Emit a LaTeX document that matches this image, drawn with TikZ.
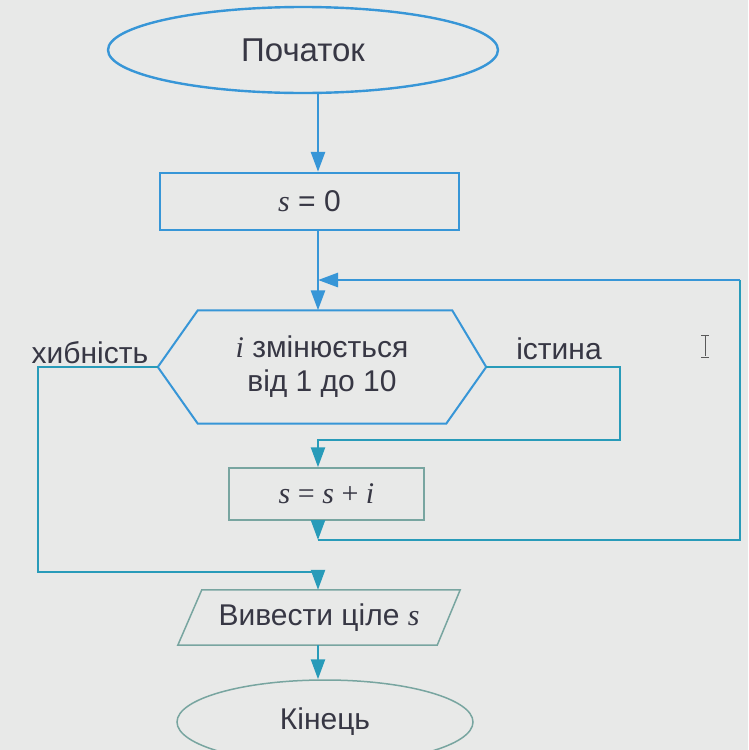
\documentclass[tikz,border=0pt]{standalone}
\usepackage{fontspec}
\setmainfont{Liberation Sans}
\newfontfamily\serifit{Liberation Serif}
\usetikzlibrary{arrows.meta,shapes.geometric,calc}
\definecolor{bgc}{RGB}{232,233,232}
\definecolor{lc}{RGB}{55,150,215}
\definecolor{lcb}{RGB}{40,155,185}
\definecolor{lcc}{RGB}{120,165,160}
\definecolor{tc}{RGB}{55,55,68}
\begin{document}
\begin{tikzpicture}[x=1pt,y=-1pt,
  tipA/.tip={Triangle[length=20pt,width=14pt]},
  flow/.style={draw=lc,line width=2.8pt,-tipA},
  flowb/.style={draw=lcb,line width=2.4pt,-tipA},
  lineb/.style={draw=lcb,line width=2.4pt},
  boxA/.style={draw=lc,line width=2.4pt,inner sep=0pt},
  boxB/.style={draw=lcc,line width=1.5pt,inner sep=0pt},
  txt/.style={text=tc,font=\fontsize{30}{34}\selectfont},
  lbl/.style={text=tc,font=\fontsize{30}{34}\selectfont,inner sep=0pt,anchor=base}]
\fill[bgc] (0,0) rectangle (748,750);
\useasboundingbox (0,0) rectangle (748,750);
\clip (0,0) rectangle (748,750);
\coordinate (col) at (318,0);
% nodes
\node[ellipse,boxA,minimum width=390pt,minimum height=86pt,txt,font=\fontsize{33}{36}\selectfont] (start) at (303,50) {Початок};
\node[rectangle,boxA,minimum width=299pt,minimum height=57pt,txt] (s0) at (309.5,201.5) {{\serifit\itshape s} = 0};
\node[minimum width=328pt,minimum height=113pt,align=center,txt,inner sep=0pt] (cyc) at (322,367) {{\serifit\itshape i} змінюється\\від 1 до 10};
\draw[draw=lc,line width=2pt] (cyc.west) -- ([xshift=40pt]cyc.north west) -- ([xshift=-34pt]cyc.north east) -- (cyc.east) -- ([xshift=-40pt]cyc.south east) -- ([xshift=40pt]cyc.south west) -- cycle;
\node[rectangle,boxB,minimum width=195pt,minimum height=52pt,txt] (sum) at (326.5,494) {\serifit\textit{s} = \textit{s} + \textit{i}};
\node[minimum width=282pt,minimum height=55pt,txt,inner sep=0pt] (out) at (319,617.5) {Вивести ціле {\serifit\itshape s}};
\draw[boxB] ([xshift=24pt]out.north west) -- (out.north east) -- ([xshift=-23pt]out.south east) -- (out.south west) -- cycle;
\node[ellipse,boxB,minimum width=296pt,minimum height=84pt,txt] (fin) at (325,722) {Кінець};
\node[lbl] (no) at (90,363) {хибність};
\node[lbl] (yes) at (559,359) {істина};
% connectors
\draw[flow] (start.south -| col) -- (s0.north -| col);
\draw[flow] (s0.south -| col) -- (cyc.north -| col);
\coordinate (lb) at (318,540);
\coordinate (rb) at (740,540);
\coordinate (rt) at (740,280);
\coordinate (lt) at (318,280);
\draw[flowb] (sum.south -| col) -- (lb);
\draw[lineb] (lb) -- (rb) -- (rt);
\draw[flow] (rt) -- (lt);
\coordinate (tx) at (620,440);
\draw[flowb] (cyc.east) -- (cyc.east -| tx) -- (tx) -- (tx -| col) -- (sum.north -| col);
\coordinate (fx) at (38,572);
\draw[flowb] (cyc.west) -- (cyc.west -| fx) -- (fx) -- (fx -| col) -- (out.north -| col);
\draw[flowb] (out.south -| col) -- (fin.north -| col);
% text cursor
\draw[gray!70!black,line width=1pt] (705,336) -- (705,356) (701,335) -- (709,335) (701,357) -- (709,357);
\end{tikzpicture}
\end{document}
